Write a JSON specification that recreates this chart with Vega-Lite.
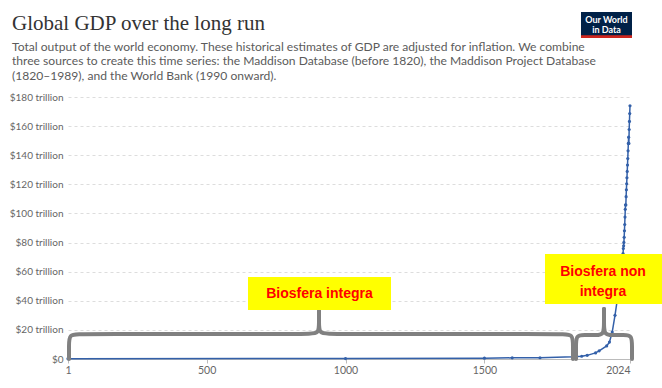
{
  "$schema": "https://vega.github.io/schema/vega-lite/v6.json",
  "width": 562,
  "height": 262,
  "autosize": {"type": "none"},
  "padding": {"left": 68, "top": 97, "right": 32, "bottom": 29},
  "background": "white",
  "config": {"view": {"stroke": null}, "font": "Lato"},
  "title": {
    "text": "Global GDP over the long run",
    "subtitle": [
      "Total output of the world economy. These historical estimates of GDP are adjusted for inflation. We combine",
      "three sources to create this time series: the Maddison Database (before 1820), the Maddison Project Database",
      "(1820–1989), and the World Bank (1990 onward)."
    ],
    "anchor": "start",
    "frame": "group",
    "dx": -56,
    "font": "Liberation Serif",
    "fontSize": 21,
    "fontWeight": "normal",
    "color": "#333333",
    "subtitleFont": "Lato",
    "subtitleFontSize": 12.1,
    "subtitleColor": "#5b5b5b",
    "subtitleLineHeight": 14.5,
    "subtitlePadding": 7,
    "offset": -70
  },
  "datasets": {
    "gdp": [
      {"year": 1, "gdp": 0.25},
      {"year": 1000, "gdp": 0.27},
      {"year": 1500, "gdp": 0.6},
      {"year": 1600, "gdp": 0.79},
      {"year": 1700, "gdp": 0.87},
      {"year": 1820, "gdp": 1.5},
      {"year": 1850, "gdp": 1.9},
      {"year": 1870, "gdp": 2.5},
      {"year": 1900, "gdp": 4.2},
      {"year": 1913, "gdp": 5.6},
      {"year": 1940, "gdp": 9.0},
      {"year": 1950, "gdp": 11.6},
      {"year": 1960, "gdp": 18.5},
      {"year": 1970, "gdp": 30.0},
      {"year": 1980, "gdp": 43.0},
      {"year": 1990, "gdp": 55.9},
      {"year": 1991, "gdp": 56.7},
      {"year": 1992, "gdp": 57.8},
      {"year": 1993, "gdp": 59.0},
      {"year": 1994, "gdp": 60.9},
      {"year": 1995, "gdp": 63.0},
      {"year": 1996, "gdp": 65.4},
      {"year": 1997, "gdp": 68.1},
      {"year": 1998, "gdp": 69.9},
      {"year": 1999, "gdp": 72.4},
      {"year": 2000, "gdp": 75.9},
      {"year": 2001, "gdp": 77.8},
      {"year": 2002, "gdp": 80.1},
      {"year": 2003, "gdp": 83.6},
      {"year": 2004, "gdp": 88.1},
      {"year": 2005, "gdp": 92.4},
      {"year": 2006, "gdp": 97.5},
      {"year": 2007, "gdp": 102.8},
      {"year": 2008, "gdp": 105.9},
      {"year": 2009, "gdp": 105.8},
      {"year": 2010, "gdp": 111.5},
      {"year": 2011, "gdp": 116.3},
      {"year": 2012, "gdp": 120.4},
      {"year": 2013, "gdp": 124.5},
      {"year": 2014, "gdp": 128.9},
      {"year": 2015, "gdp": 133.3},
      {"year": 2016, "gdp": 137.7},
      {"year": 2017, "gdp": 143.0},
      {"year": 2018, "gdp": 148.1},
      {"year": 2019, "gdp": 152.4},
      {"year": 2020, "gdp": 148.1},
      {"year": 2021, "gdp": 157.7},
      {"year": 2022, "gdp": 163.2},
      {"year": 2023, "gdp": 168.6},
      {"year": 2024, "gdp": 174.0}
    ],
    "braces": [
      {"seg": "b1L", "ord": 1, "year": 4.6, "gdp": 0},
      {"seg": "b1L", "ord": 2, "year": 4.6, "gdp": 8.9},
      {"seg": "b1L", "ord": 3, "year": 4.6, "gdp": 17.2},
      {"seg": "b1L", "ord": 4, "year": 44.2, "gdp": 17.2},
      {"seg": "b1L", "ord": 5, "year": 864.9, "gdp": 17.2},
      {"seg": "b1L", "ord": 6, "year": 904.5, "gdp": 17.2},
      {"seg": "b1L", "ord": 7, "year": 904.5, "gdp": 25.4},
      {"seg": "b1L", "ord": 8, "year": 904.5, "gdp": 33.0},
      {"seg": "b1R", "ord": 1, "year": 904.5, "gdp": 33.0},
      {"seg": "b1R", "ord": 2, "year": 904.5, "gdp": 25.4},
      {"seg": "b1R", "ord": 3, "year": 904.5, "gdp": 17.2},
      {"seg": "b1R", "ord": 4, "year": 944.1, "gdp": 17.2},
      {"seg": "b1R", "ord": 5, "year": 1779.2, "gdp": 17.2},
      {"seg": "b1R", "ord": 6, "year": 1818.8, "gdp": 17.2},
      {"seg": "b1R", "ord": 7, "year": 1818.8, "gdp": 8.9},
      {"seg": "b1R", "ord": 8, "year": 1818.8, "gdp": 0},
      {"seg": "b2L", "ord": 1, "year": 1829.6, "gdp": 0},
      {"seg": "b2L", "ord": 2, "year": 1829.6, "gdp": 8.2},
      {"seg": "b2L", "ord": 3, "year": 1829.6, "gdp": 16.5},
      {"seg": "b2L", "ord": 4, "year": 1858.4, "gdp": 16.5},
      {"seg": "b2L", "ord": 5, "year": 1901.6, "gdp": 16.5},
      {"seg": "b2L", "ord": 6, "year": 1930.4, "gdp": 16.5},
      {"seg": "b2L", "ord": 7, "year": 1930.4, "gdp": 25.4},
      {"seg": "b2L", "ord": 8, "year": 1930.4, "gdp": 34.4},
      {"seg": "b2R", "ord": 1, "year": 1930.4, "gdp": 34.4},
      {"seg": "b2R", "ord": 2, "year": 1930.4, "gdp": 25.4},
      {"seg": "b2R", "ord": 3, "year": 1930.4, "gdp": 16.5},
      {"seg": "b2R", "ord": 4, "year": 1959.2, "gdp": 16.5},
      {"seg": "b2R", "ord": 5, "year": 2002.4, "gdp": 16.5},
      {"seg": "b2R", "ord": 6, "year": 2031.2, "gdp": 16.5},
      {"seg": "b2R", "ord": 7, "year": 2031.2, "gdp": 8.2},
      {"seg": "b2R", "ord": 8, "year": 2031.2, "gdp": 0}
    ],
    "boxes": [
      {"year": 648.9, "year2": 1163.7, "gdp": 56.3, "gdp2": 33.7},
      {"year": 1718.0, "year2": 2150, "gdp": 72.1, "gdp2": 37.8}
    ],
    "labels": [
      {"year": 906.3, "gdp": 45.0, "label": "Biosfera integra"},
      {"year": 1926.8, "gdp": 59.8, "label": "Biosfera non\nintegra"}
    ],
    "logo": [
      {"year": 1847.6, "year2": 2031.2, "gdp": 238.4, "gdp2": 220.5}
    ],
    "logostrip": [
      {"year": 1847.6, "year2": 2031.2, "gdp": 222.4, "gdp2": 220.5}
    ],
    "logotext": [
      {"year": 1939.4, "gdp": 232.9, "label": "Our World\nin Data"}
    ]
  },
  "encoding": {
    "x": {
      "field": "year",
      "type": "quantitative",
      "scale": {"domain": [1, 2024], "nice": false, "zero": false},
      "axis": {
        "title": null,
        "values": [1, 500, 1000, 1500, 2024],
        "format": "d",
        "grid": false,
        "domain": true,
        "domainColor": "#bbbbbb",
        "ticks": true,
        "tickColor": "#bbbbbb",
        "tickSize": 4,
        "labelFont": "Lato",
        "labelFontSize": 10.5,
        "labelColor": "#666666",
        "labelPadding": 2,
        "labelAlign": {"condition": {"test": "datum.value == 2024", "value": "right"}, "value": "center"}
      }
    },
    "y": {
      "field": "gdp",
      "type": "quantitative",
      "scale": {"domain": [0, 180], "nice": false},
      "axis": {
        "title": null,
        "values": [0, 20, 40, 60, 80, 100, 120, 140, 160, 180],
        "labelExpr": "datum.value == 0 ? '$0' : '$' + datum.value + ' trillion'",
        "domain": false,
        "ticks": false,
        "grid": true,
        "gridColor": "#dddddd",
        "gridDash": [3, 3],
        "labelFont": "Lato",
        "labelFontSize": 10,
        "labelColor": "#666666",
        "labelPadding": 5
      }
    }
  },
  "layer": [
    {
      "data": {"name": "gdp"},
      "mark": {"type": "line", "color": "#3360a9", "strokeWidth": 1.5, "point": {"filled": true, "size": 10, "color": "#3360a9"}}
    },
    {
      "data": {"name": "braces"},
      "mark": {"type": "line", "color": "#808080", "strokeWidth": 4, "interpolate": "basis", "strokeCap": "round", "strokeJoin": "round"},
      "encoding": {"detail": {"field": "seg"}, "order": {"field": "ord", "type": "quantitative"}}
    },
    {
      "data": {"name": "boxes"},
      "mark": {"type": "rect", "color": "#ffff00"},
      "encoding": {"x2": {"field": "year2"}, "y2": {"field": "gdp2"}}
    },
    {
      "data": {"name": "labels"},
      "mark": {"type": "text", "color": "#ff0000", "font": "Liberation Sans", "fontWeight": "bold", "fontSize": 14, "lineBreak": "\n", "lineHeight": 20, "align": "center", "baseline": "middle"},
      "encoding": {"text": {"field": "label"}}
    },
    {
      "data": {"name": "logo"},
      "mark": {"type": "rect", "color": "#002147"},
      "encoding": {"x2": {"field": "year2"}, "y2": {"field": "gdp2"}}
    },
    {
      "data": {"name": "logostrip"},
      "mark": {"type": "rect", "color": "#ce261e"},
      "encoding": {"x2": {"field": "year2"}, "y2": {"field": "gdp2"}}
    },
    {
      "data": {"name": "logotext"},
      "mark": {"type": "text", "color": "#ffffff", "font": "Lato", "fontWeight": "bold", "fontSize": 9, "lineBreak": "\n", "lineHeight": 9.5, "align": "center", "baseline": "middle"},
      "encoding": {"text": {"field": "label"}}
    }
  ]
}
